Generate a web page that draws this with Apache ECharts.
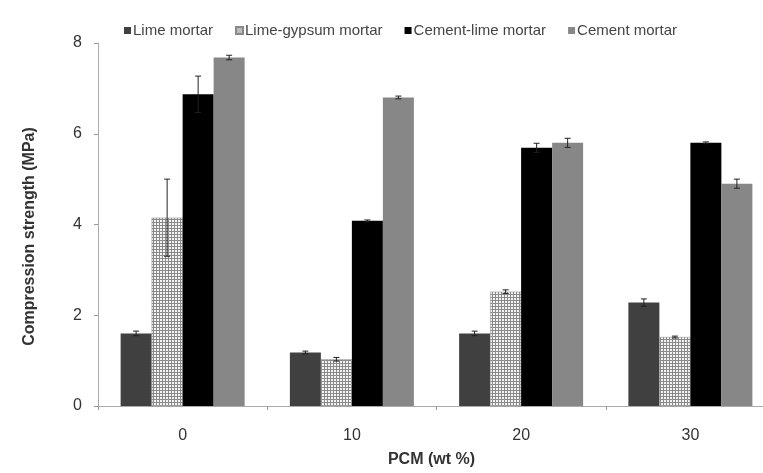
<!DOCTYPE html>
<html>
<head>
<meta charset="utf-8">
<script src="https://cdn.jsdelivr.net/npm/echarts@6/dist/echarts.min.js"></script>
<style>
html, body { margin: 0; padding: 0; background: #fff; overflow: hidden; }
/* the plot area runs past the right edge of the original figure */
#main { width: 776px; height: 473px; }
</style>
</head>
<body>
<div id="main"></div>
<script>
// data
var categories = ['0', '10', '20', '30'];
var seriesNames = ['Lime mortar', 'Lime-gypsum mortar', 'Cement-lime mortar', 'Cement mortar'];
var limeMortar = [1.6, 1.18, 1.6, 2.28];
var limeGypsumMortar = [4.15, 1.03, 2.52, 1.52];
var cementLimeMortar = [6.87, 4.08, 5.69, 5.8];
var cementMortar = [7.68, 6.8, 5.8, 4.9];
var limeErr = [0.05, 0.03, 0.05, 0.08];
var limeGypsumErr = [0.85, 0.04, 0.04, 0.02];
var cementLimeErr = [0.4, 0.02, 0.1, 0.02];
var cementErr = [0.05, 0.03, 0.1, 0.1];

var barW = 31;

// grid hatch for the lime-gypsum bars
var hatch = document.createElement('canvas');
hatch.width = 3;
hatch.height = 3;
var hctx = hatch.getContext('2d');
hctx.fillStyle = '#f4f4f4';
hctx.fillRect(0, 0, 3, 3);
hctx.fillStyle = '#8a8a8a';
hctx.fillRect(0, 0, 3, 1);
hctx.fillRect(0, 0, 1, 3);

var values = [limeMortar, limeGypsumMortar, cementLimeMortar, cementMortar];
var errors = [limeErr, limeGypsumErr, cementLimeErr, cementErr];
var colors = ['#404040', { image: hatch, repeat: 'repeat' }, '#000000', '#878787'];
var legendColors = ['#404040', '#bdbdbd', '#000000', '#878787'];

var errData = [];
values.forEach(function (vals, s) {
    vals.forEach(function (v, i) {
        errData.push([i, v, errors[s][i], s]);
    });
});

var font = '"Liberation Sans", Arial, sans-serif';

var series = seriesNames.map(function (name, s) {
    return {
        name: name,
        type: 'bar',
        data: values[s],
        barWidth: barW,
        barGap: '0%',
        itemStyle: {
            color: colors[s],
            borderColor: s == 1 ? '#888' : null,
            borderWidth: s == 1 ? 0.5 : 0
        }
    };
});

series.push({
    type: 'custom',
    z: 10,
    silent: true,
    data: errData,
    renderItem: function (params, api) {
        var ci = api.value(0);
        var v = api.value(1);
        var e = api.value(2);
        var s = api.value(3);
        var x = api.coord([ci, v])[0] + (s - 1.5) * barW;
        var yTop = api.coord([ci, v + e])[1];
        var yBot = api.coord([ci, v - e])[1];
        var st = { stroke: '#222', lineWidth: 1 };
        return {
            type: 'group',
            children: [
                { type: 'line', shape: { x1: x, y1: yTop, x2: x, y2: yBot }, style: st },
                { type: 'line', shape: { x1: x - 3, y1: yTop, x2: x + 3, y2: yTop }, style: st },
                { type: 'line', shape: { x1: x - 3, y1: yBot, x2: x + 3, y2: yBot }, style: st }
            ]
        };
    }
});

var myChart = echarts.init(document.getElementById('main'));
var option = {
    animation: false,
    backgroundColor: '#fff',
    legend: {
        data: seriesNames.map(function (n, s) {
            return { name: n, itemStyle: { color: legendColors[s] } };
        }),
        left: 119,
        top: 18,
        icon: 'rect',
        itemWidth: 7,
        itemHeight: 7,
        itemGap: 22,
        textStyle: { fontFamily: font, fontSize: 15, color: '#444', padding: [0, 0, 0, -3] }
    },
    grid: { left: 98, right: 1, top: 43, bottom: 67 },
    xAxis: {
        type: 'category',
        data: categories,
        name: 'PCM (wt %)',
        nameLocation: 'middle',
        nameGap: 46,
        nameTextStyle: { fontFamily: font, fontSize: 16, fontWeight: 'bold', color: '#333', padding: [0, 10, 0, 0] },
        axisLine: { lineStyle: { color: '#aaa' } },
        axisTick: { show: true, length: 4, lineStyle: { color: '#999' } },
        axisLabel: { fontFamily: font, fontSize: 16, color: '#333', margin: 22 }
    },
    yAxis: {
        type: 'value',
        min: 0,
        max: 8,
        interval: 2,
        name: 'Compression strength (MPa)',
        nameLocation: 'middle',
        nameGap: 60,
        nameTextStyle: { fontFamily: font, fontSize: 16, fontWeight: 'bold', color: '#333', padding: [0, 24, 0, 0] },
        axisLine: { show: true, lineStyle: { color: '#aaa' } },
        axisTick: { show: true, length: 4, lineStyle: { color: '#999' } },
        splitLine: { show: false },
        axisLabel: { fontFamily: font, fontSize: 16, color: '#333', margin: 16 }
    },
    series: series
};
myChart.setOption(option);
</script>
</body>
</html>
